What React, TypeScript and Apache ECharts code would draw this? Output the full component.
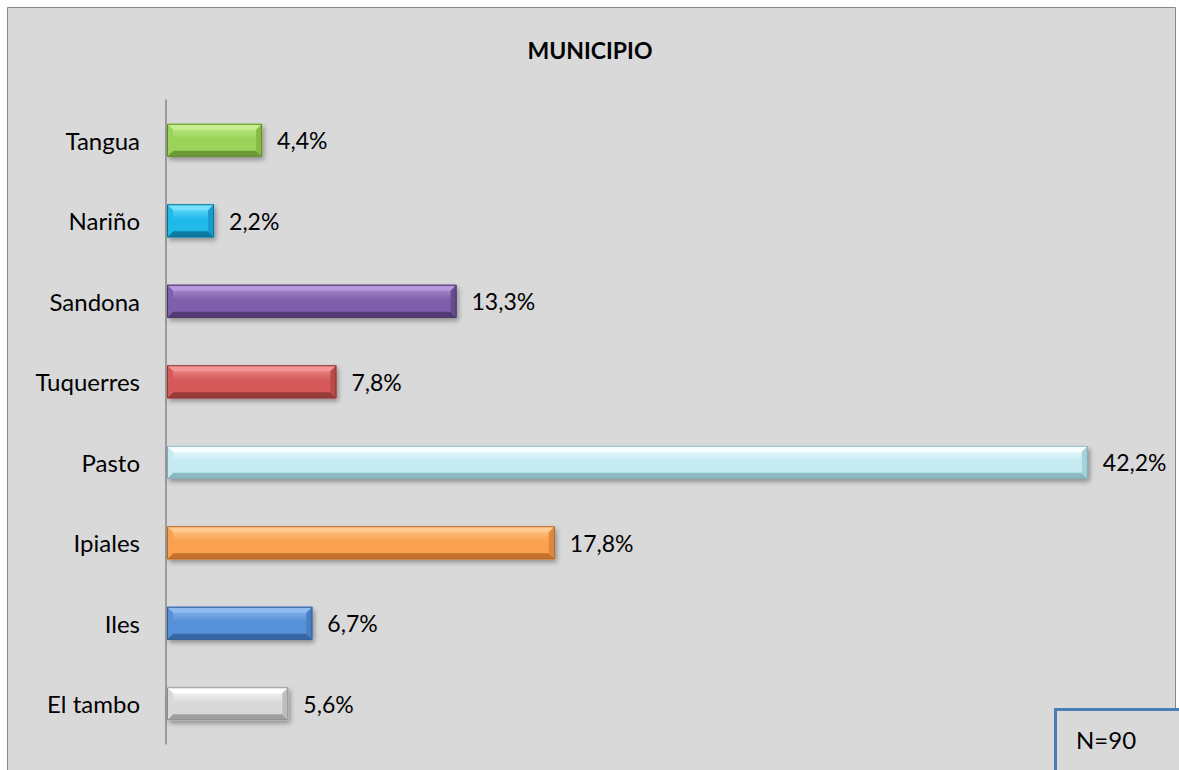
import React, { useEffect, useRef } from "react";
import * as echarts from "echarts";

const chartTitle = "MUNICIPIO";
const categories = ["Tangua", "Nariño", "Sandona", "Tuquerres", "Pasto", "Ipiales", "Iles", "El tambo"];
const values = [4.4, 2.2, 13.3, 7.8, 42.2, 17.8, 6.7, 5.6];
const sampleNote = "N=90";

// palette: [base, light, dark, side, outline]
const palette = [
  ["#9bd35a", "#c6ee90", "#6e9a36", "#84bb46", "#5f8a2e"],
  ["#1fbaea", "#76e0ff", "#0e7aa2", "#179ccb", "#0c6f94"],
  ["#7d5fab", "#b898dc", "#513b73", "#674d90", "#4a3569"],
  ["#d65a5a", "#f29494", "#983c3a", "#b84a49", "#8c3634"],
  ["#c6eaf2", "#f6ffff", "#8db9c3", "#a8d2db", "#7fa9b3"],
  ["#f9a14f", "#ffcb90", "#c6722e", "#df883c", "#b5692b"],
  ["#5690d8", "#90bcf2", "#3868a4", "#497ebf", "#335f96"],
  ["#d9d9d9", "#ffffff", "#9f9f9f", "#bdbdbd", "#8f8f8f"],
];

const FONT = "Lato, 'Open Sans', sans-serif";

export default function App() {
  const ref = useRef<HTMLDivElement>(null);
  useEffect(() => {
    if (!ref.current) return;
    const chart = echarts.init(ref.current, undefined, { renderer: "svg" });
    const data = values.map((v, i) => [v, i]);
    const option: any = {
      animation: false,
      backgroundColor: "#ffffff",
      graphic: [
        {
          type: "rect",
          z: -10,
          shape: { x: 7.5, y: 7.5, width: 1168, height: 800 },
          style: { fill: "#d9d9d9", stroke: "#878787", lineWidth: 1 },
        },
        {
          type: "text",
          z: 10,
          style: {
            text: chartTitle,
            x: 590,
            y: 50,
            align: "center",
            verticalAlign: "middle",
            fill: "#000",
            fontFamily: FONT,
            fontWeight: "bold",
            fontSize: 23,
          },
        },
        {
          type: "rect",
          z: 10,
          shape: { x: 1055.5, y: 709.5, width: 140, height: 90 },
          style: { fill: "#d9d9d9", stroke: "#4a7ebb", lineWidth: 3 },
        },
        {
          type: "text",
          z: 11,
          style: {
            text: sampleNote,
            x: 1076,
            y: 739,
            align: "left",
            verticalAlign: "middle",
            fill: "#000",
            fontFamily: FONT,
            fontSize: 24,
          },
        },
      ],
      grid: { left: 166, top: 100, width: 983, height: 644, containLabel: false },
      xAxis: {
        type: "value",
        min: 0,
        max: 45,
        show: false,
        splitLine: { show: false },
      },
      yAxis: {
        type: "category",
        data: categories,
        inverse: true,
        axisLine: { show: true, lineStyle: { color: "#878787", width: 1.5 } },
        axisTick: { show: false },
        axisLabel: {
          margin: 26,
          color: "#000",
          fontFamily: FONT,
          fontSize: 24,
        },
      },
      series: [
        {
          type: "custom",
          clip: false,
          encode: { x: 0, y: 1 },
          data,
          renderItem: (params: any, api: any) => {
            const v = api.value(0);
            const i = api.value(1);
            const start = api.coord([0, i]);
            const end = api.coord([v, i]);
            const band = api.size([0, 1])[1];
            const h = band * 0.41;
            const x0 = start[0] + 1;
            const x1 = end[0];
            const yT = start[1] - h / 2;
            const yB = start[1] + h / 2;
            const w = x1 - x0;
            const b = Math.min(6, w / 2);
            const c = palette[i];
            const label = v.toFixed(1).replace(".", ",") + "%";
            return {
              type: "group",
              children: [
                {
                  type: "rect",
                  shape: { x: x0, y: yT, width: w, height: h },
                  style: {
                    fill: c[0],
                    shadowBlur: 5,
                    shadowOffsetX: 2,
                    shadowOffsetY: 3,
                    shadowColor: "rgba(0,0,0,0.35)",
                  },
                },
                {
                  type: "rect",
                  shape: { x: x0, y: yT, width: w, height: h },
                  style: {
                    fill: new echarts.graphic.LinearGradient(0, 0, 0, 1, [
                      { offset: 0, color: c[1] },
                      { offset: 0.45, color: c[0] },
                      { offset: 1, color: c[0] },
                    ]),
                  },
                },
                {
                  type: "polygon",
                  shape: { points: [[x0, yT], [x1, yT], [x1 - b, yT + b], [x0 + b, yT + b]] },
                  style: { fill: c[1] },
                },
                {
                  type: "polygon",
                  shape: { points: [[x0, yB], [x1, yB], [x1 - b, yB - b], [x0 + b, yB - b]] },
                  style: { fill: c[2] },
                },
                {
                  type: "polygon",
                  shape: { points: [[x1, yT], [x1, yB], [x1 - b, yB - b], [x1 - b, yT + b]] },
                  style: { fill: c[3] },
                },
                {
                  type: "polygon",
                  shape: { points: [[x0, yT], [x0, yB], [x0 + b, yB - b], [x0 + b, yT + b]] },
                  style: { fill: c[0] },
                },
                {
                  type: "rect",
                  shape: { x: x0 + 0.5, y: yT + 0.5, width: w - 1, height: h - 1 },
                  style: { fill: "none", stroke: c[4], lineWidth: 1 },
                },
                {
                  type: "text",
                  style: {
                    text: label,
                    x: x1 + 15,
                    y: start[1],
                    align: "left",
                    verticalAlign: "middle",
                    fill: "#000",
                    fontFamily: FONT,
                    fontSize: 23,
                  },
                },
              ],
            };
          },
        },
      ],
    };
    chart.setOption(option);
    return () => chart.dispose();
  }, []);
  return (
    <div
      ref={ref}
      style={{ position: "fixed", left: 0, top: 0, width: 1179, height: 770 }}
    />
  );
}
